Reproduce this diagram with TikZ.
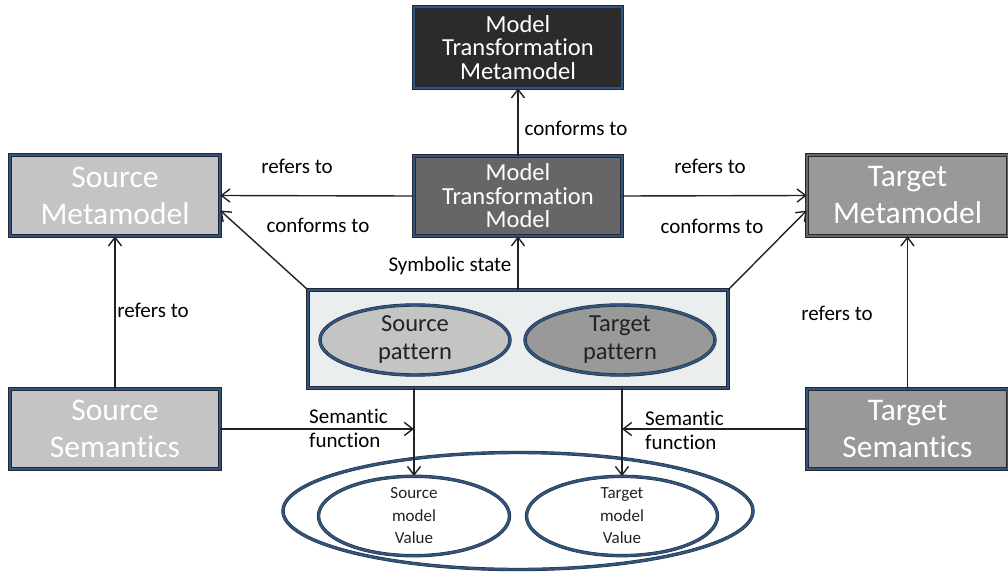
\documentclass[tikz,border=0pt]{standalone}
\usepackage{fontspec}
\setmainfont[Ligatures=NoCommon]{Carlito}
\usetikzlibrary{arrows.meta,positioning,calc,shapes.geometric}
\definecolor{mdeblue}{RGB}{46,84,128}
\definecolor{mdeedge}{RGB}{40,40,48}
\definecolor{mdedark}{RGB}{43,43,43}
\definecolor{mdemid}{RGB}{102,102,102}
\definecolor{mdelight}{RGB}{196,196,196}
\definecolor{mdegray}{RGB}{153,153,153}
\definecolor{mdepale}{RGB}{235,238,238}
\definecolor{mdetext}{RGB}{34,34,34}
\tikzset{
  mde box/.style={
    rectangle,
    draw=mdeedge,
    line width=0.6pt,
    double=mdeblue,
    double distance=2pt,
    inner sep=0pt,
    align=center,
    text=white,
  },
  mde oval/.style={
    ellipse,
    draw=mdeedge,
    line width=0.5pt,
    double=mdeblue,
    double distance=2.4pt,
    inner sep=0pt,
    align=center,
    text=mdetext,
  },
  mde arrow/.style={
    -{Straight Barb[length=3mm,width=4.6mm,line width=1.4pt]},
    line width=1.4pt,
    draw=mdetext,
  },
  mde label/.style={
    font=\fontsize{21}{24}\selectfont,
    text=black,
    inner sep=0pt,
    align=left,
  },
}

\begin{document}
\begin{tikzpicture}[x=1pt,y=-1pt]
  \useasboundingbox (0,0) rectangle (1008,572);
  % boxes
  \node[mde box, fill=mdedark, minimum width=208, minimum height=81,
    font=\fontsize{24.5}{23.5}\selectfont] (mtmm) at (518,47.5)
    {Model\\Transformation\\Metamodel};
  \node[mde box, fill=mdemid, minimum width=208, minimum height=80,
    font=\fontsize{24.5}{23.5}\selectfont] (mtm) at (518,196)
    {Model\\Transformation\\Model};
  \node[mde box, fill=mdelight, minimum width=210, minimum height=81,
    font=\fontsize{31.5}{37}\selectfont] (srcmm) at (115,195.5)
    {Source\\Metamodel};
  \node[mde box, fill=mdegray, double=mdemid, minimum width=201, minimum height=81,
    font=\fontsize{31.5}{37}\selectfont] (tgtmm) at (907.5,195.5)
    {Target\\Metamodel};
  \node[mde box, fill=mdelight, minimum width=210, minimum height=80,
    font=\fontsize{31.5}{37}\selectfont] (srcsem) at (115,429)
    {Source\\Semantics};
  \node[mde box, fill=mdegray, minimum width=201, minimum height=80,
    font=\fontsize{31.5}{37}\selectfont] (tgtsem) at (907.5,429)
    {Target\\Semantics};
  \node[mde box, fill=mdepale, minimum width=420, minimum height=98] (pat) at (518,339) {};
  \node[mde oval, fill=mdelight, minimum width=190, minimum height=70,
    font=\fontsize{24.5}{28}\selectfont] (srcpat) at (415,340) {Source\\pattern};
  \node[mde oval, fill=mdegray, minimum width=190, minimum height=70,
    font=\fontsize{24.5}{28}\selectfont] (tgtpat) at (620,340) {Target\\pattern};
  % semantic values
  \node[mde oval, fill=white, minimum width=470, minimum height=117] (vals) at (518,511) {};
  \node[mde oval, fill=white, minimum width=191, minimum height=72,
    font=\fontsize{17}{22.5}\selectfont] (srcval) at (414,516) {Source\\model\\Value};
  \node[mde oval, fill=white, minimum width=191, minimum height=72,
    font=\fontsize{17}{22.5}\selectfont] (tgtval) at (622,516) {Target\\model\\Value};

  % connectors
  \draw[mde arrow] (mtm.north) -- (mtmm.south);
  \draw[mde arrow] (mtm.west) -- (srcmm.east);
  \draw[mde arrow] (mtm.east) -- (tgtmm.west);
  \draw[mde arrow] (pat.north) -- (mtm.south);
  \draw[mde arrow] (pat.north west) -- ($(srcmm.east)+(0,15)$);
  \draw[mde arrow] (pat.north east) -- ($(tgtmm.west)+(0,15)$);
  \draw[mde arrow] (srcsem.north) -- (srcmm.south);
  \draw[mde arrow] (tgtsem.north) -- (tgtmm.south);
  \draw[mde arrow] (pat.south -| srcval.north) -- (srcval.north);
  \draw[mde arrow] (pat.south -| tgtval.north) -- (tgtval.north);
  \draw[mde arrow] (srcsem.east) -- (srcsem.east -| srcval.north);
  \draw[mde arrow] (tgtsem.west) -- (tgtsem.west -| tgtval.north);

  % labels
  \node[mde label] (lconfmt) at (576,128) {conforms to};
  \node[mde label] (lrefsrc) at (297,166) {refers to};
  \node[mde label] (lreftgt) at (710,166) {refers to};
  \node[mde label] (lconfsrc) at (318,225) {conforms to};
  \node[mde label] (lconftgt) at (712,226) {conforms to};
  \node[mde label] (lsym) at (450,266) {Symbolic state};
  \node[mde label] (lrefsem) at (153,310) {refers to};
  \node[mde label] (lreftsem) at (837,313) {refers to};
  \node[mde label, anchor=west] (lsemsrc) at (309,428) {Semantic\\function};
  \node[mde label, anchor=west] (lsemtgt) at (645,430) {Semantic\\function};
\end{tikzpicture}
\end{document}
